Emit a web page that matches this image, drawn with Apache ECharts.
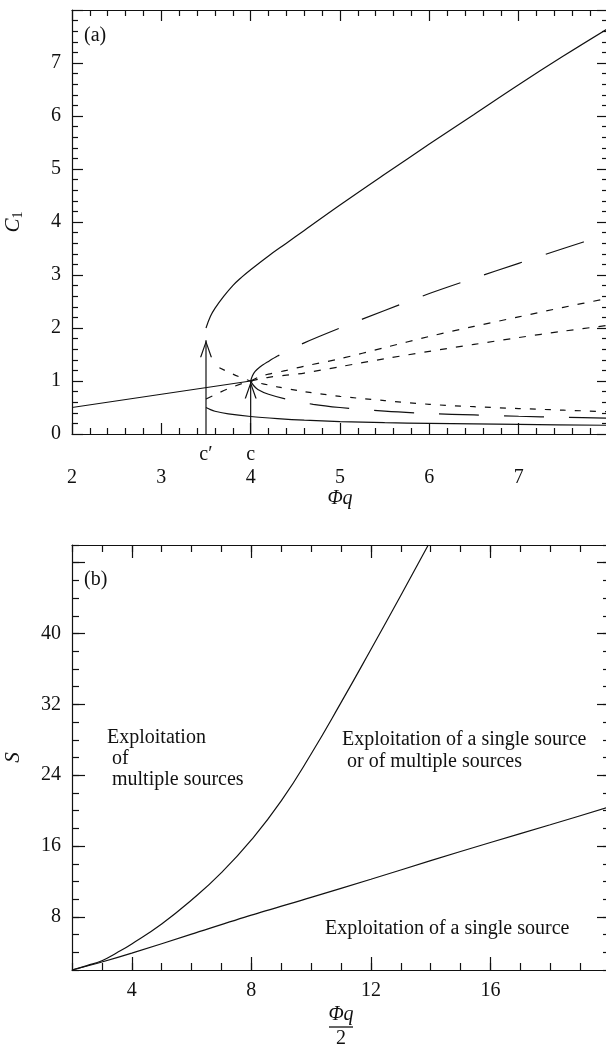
<!DOCTYPE html>
<html>
<head>
<meta charset="utf-8">
<script src="https://cdn.jsdelivr.net/npm/echarts@6/dist/echarts.min.js"></script>
<style>
  html, body { margin: 0; padding: 0; background: #fff; }
  #chart { width: 606px; height: 1047px; }
</style>
</head>
<body>
<div id="chart"></div>
<script>
// ---- panel (a): C1 against Phi q ----
const solidLeft = [[2, 0.5], [3, 0.75], [4, 1.0]]
const solidUpper = [[3.5, 2.0], [3.55, 2.22], [3.6, 2.37], [3.7, 2.6], [3.8, 2.8], [3.9, 2.96], [4.0, 3.1],
  [4.2, 3.36], [4.4, 3.6], [4.6, 3.84], [5, 4.32], [5.5, 4.9], [6, 5.47], [6.5, 6.03], [7, 6.59], [7.5, 7.13], [8, 7.65]]
const solidLower = [[3.5, 0.5], [3.55, 0.46], [3.6, 0.43], [3.75, 0.38], [4, 0.33], [4.3, 0.29], [4.6, 0.26],
  [5, 0.235], [5.5, 0.215], [6, 0.2], [7, 0.18], [8, 0.165]]
const longDashUp = [[4, 1.0], [4.02, 1.1], [4.05, 1.18], [4.1, 1.26], [4.2, 1.37], [4.3, 1.47], [4.4, 1.55],
  [4.6, 1.72], [5, 2.0], [5.5, 2.33], [6, 2.65], [6.5, 2.94], [7, 3.22], [7.5, 3.5], [8, 3.77]]
const longDashLow = [[4, 1.0], [4.03, 0.92], [4.08, 0.84], [4.2, 0.75], [4.42, 0.65], [4.7, 0.56], [5, 0.5],
  [5.5, 0.43], [6, 0.385], [6.5, 0.36], [7, 0.335], [7.5, 0.315], [8, 0.3]]
const dashFromCp = [[3.5, 0.66], [3.6, 0.74], [3.7, 0.82], [3.8, 0.89], [3.9, 0.95], [4, 1.0]]
const dashFalling = [[3.65, 1.25], [3.8, 1.13], [3.9, 1.06], [4, 1.0], [4.3, 0.89], [4.6, 0.8], [5, 0.71],
  [5.5, 0.63], [6, 0.56], [6.5, 0.515], [7, 0.48], [7.5, 0.45], [8, 0.42]]
const dashUpper = [[4, 1.0], [4.1, 1.08], [4.2, 1.13], [4.4, 1.2], [4.6, 1.28], [5, 1.42], [5.5, 1.63],
  [6, 1.84], [6.5, 2.03], [7, 2.21], [7.5, 2.39], [8, 2.56]]
const dashLower = [[4, 1.0], [4.1, 1.04], [4.2, 1.07], [4.4, 1.11], [4.6, 1.15], [5, 1.27], [5.5, 1.42],
  [6, 1.56], [6.5, 1.69], [7, 1.82], [7.5, 1.94], [8, 2.05]]
const arrowX = [3.5, 4]
const arrowTip = [1.77, 0.99]
const arrowNames = ['c\u2032', 'c']

// ---- panel (b): S against Phi q / 2 ----
const bUpperX = [2, 2.5, 3, 3.5, 4, 5, 6, 7, 8, 9, 10, 11, 12, 13, 13.92]
const bUpperY = [2, 2.5, 3.05, 3.95, 4.95, 7.2, 9.9, 13.0, 16.7, 21.1, 26.4, 32.2, 38.2, 44.3, 50]
const bLowerX = [2, 3, 4, 6, 8, 10, 12, 14, 16, 18, 20]
const bLowerY = [2, 2.9, 3.9, 6.05, 8.2, 10.2, 12.25, 14.35, 16.4, 18.4, 20.45]
const bXMajor = [4, 8, 12, 16, 20]
const bXLabels = [4, 8, 12, 16]
const bYMajor = [8, 16, 24, 32, 40, 48]
const bYLabels = [8, 16, 24, 32, 40]

const ink = '#111'
const serif = '"Liberation Serif", "Times New Roman", serif'
const lineW = 1.2

const arrowHead = 'path://M6,0 L12,17 L10.7,17 L6,3.4 L1.3,17 L0,17 Z'

const tick = (len, extra) => Object.assign({
  show: true, inside: true, length: len, lineStyle: { color: ink, width: lineW }
}, extra)

const minor = len => ({ show: true, splitNumber: 5, length: len, lineStyle: { color: ink, width: lineW } })

const label = extra => Object.assign({
  show: true, color: ink, fontFamily: serif, fontSize: 20
}, extra)

const frameAxis = (gridIndex, position, min, max, interval, tickLen, extra) => Object.assign({
  type: 'value', gridIndex, position, min, max, interval,
  axisLine: { show: true, onZero: false, lineStyle: { color: ink, width: lineW } },
  axisTick: tick(tickLen),
  axisLabel: { show: false },
  splitLine: { show: false }
}, extra)

const hideEight = v => (v === 8 ? '' : String(v))

const line = (data, dash, xi, yi, smooth) => ({
  type: 'line', data, xAxisIndex: xi, yAxisIndex: yi,
  showSymbol: false, symbol: 'none', smooth: smooth || 0, silent: true,
  lineStyle: { color: ink, width: lineW, type: dash }
})

const zip = (xs, ys) => xs.map((x, i) => [x, ys[i]])

const arrowSeries = arrowX.map((x, i) => ({
  type: 'line', xAxisIndex: 0, yAxisIndex: 0, clip: false, silent: true,
  symbol: 'none', showSymbol: true,
  lineStyle: { color: ink, width: lineW },
  data: [[x, 0], { value: [x, arrowTip[i]], symbol: arrowHead, symbolSize: [12, 17], symbolOffset: [0, '50%'],
    itemStyle: { color: ink } }]
}))

const chart = echarts.init(document.getElementById('chart'))

chart.setOption({
  animation: false,
  backgroundColor: '#fff',
  grid: [
    { left: 72, top: 10, width: 536, height: 424, outerBoundsMode: 'none' },
    { left: 72, top: 545, width: 538, height: 425, outerBoundsMode: 'none' }
  ],
  xAxis: [
    frameAxis(0, 'bottom', 2, 8, 1, 11, {
      minorTick: minor(6),
      axisLabel: label({ margin: 34, formatter: hideEight }),
      name: '\u03a6q', nameLocation: 'middle', nameGap: 53,
      nameTextStyle: { color: ink, fontFamily: serif, fontSize: 20, fontStyle: 'italic' }
    }),
    frameAxis(0, 'top', 2, 8, 1, 11, { minorTick: minor(6) }),
    {
      type: 'value', gridIndex: 0, position: 'bottom', min: 2, max: 8,
      axisLine: { show: false }, axisTick: { show: false }, splitLine: { show: false },
      axisLabel: label({ customValues: arrowX, margin: 11, formatter: v => arrowNames[arrowX.indexOf(v)] || '' })
    },
    frameAxis(1, 'bottom', 2, 20, 1, 13, {
      axisTick: tick(13, { customValues: bXMajor }),
      axisLabel: label({ margin: 11, customValues: bXLabels }),
      name: '{n|\u03a6q}\n{bar| }\n{d|2}', nameLocation: 'middle', nameGap: 35,
      nameTextStyle: {
        color: ink, fontFamily: serif, fontSize: 20, align: 'center',
        rich: {
          n: { fontFamily: serif, fontSize: 20, fontStyle: 'italic', lineHeight: 20, color: ink },
          bar: { width: 24, height: 1.3, lineHeight: 4, backgroundColor: ink },
          d: { fontFamily: serif, fontSize: 20, lineHeight: 19, color: ink }
        }
      }
    }),
    frameAxis(1, 'bottom', 2, 20, 1, 7, { axisLine: { show: false } }),
    frameAxis(1, 'top', 2, 20, 1, 13, { axisTick: tick(13, { customValues: bXMajor }) }),
    frameAxis(1, 'top', 2, 20, 1, 7, { axisLine: { show: false } })
  ],
  yAxis: [
    frameAxis(0, 'left', 0, 8, 1, 11, {
      minorTick: minor(6),
      axisLabel: label({ margin: 11, formatter: hideEight }),
      name: '{i|C}{s|1}', nameLocation: 'middle', nameGap: 47, nameRotate: 90,
      nameTextStyle: {
        color: ink, fontFamily: serif, fontSize: 20,
        rich: {
          i: { fontFamily: serif, fontSize: 21, fontStyle: 'italic', lineHeight: 24, color: ink },
          s: { fontFamily: serif, fontSize: 14, lineHeight: 14, verticalAlign: 'bottom', color: ink }
        }
      }
    }),
    frameAxis(0, 'right', 0, 8, 1, 11, { minorTick: minor(6) }),
    frameAxis(1, 'left', 2, 50, 2, 13, {
      axisTick: tick(13, { customValues: bYMajor }),
      axisLabel: label({ margin: 11, customValues: bYLabels }),
      name: 'S', nameLocation: 'middle', nameGap: 48, nameRotate: 90,
      nameTextStyle: { color: ink, fontFamily: serif, fontSize: 21, fontStyle: 'italic' }
    }),
    frameAxis(1, 'left', 2, 50, 2, 7, { axisLine: { show: false } }),
    frameAxis(1, 'right', 2, 50, 2, 13, { axisTick: tick(13, { customValues: bYMajor }) }),
    frameAxis(1, 'right', 2, 50, 2, 7, { axisLine: { show: false } })
  ],
  graphic: [
    { type: 'text', left: 84, top: 26, style: { text: '(a)', font: '20px ' + serif, fill: ink } },
    { type: 'text', left: 84, top: 570, style: { text: '(b)', font: '20px ' + serif, fill: ink } },
    { type: 'text', left: 107, top: 727, style: { text: 'Exploitation\n of\n multiple sources', font: '20px ' + serif, lineHeight: 21, fill: ink } },
    { type: 'text', left: 342, top: 729, style: { text: 'Exploitation of a single source\n or of multiple sources', font: '20px ' + serif, lineHeight: 22, fill: ink } },
    { type: 'text', left: 325, top: 919, style: { text: 'Exploitation of a single source', font: '20px ' + serif, fill: ink } }
  ],
  series: [
    line(solidLeft, 'solid', 0, 0),
    line(solidUpper, 'solid', 0, 0, 0.4),
    line(solidLower, 'solid', 0, 0, 0.3),
    line(longDashUp, [40, 25], 0, 0, 0.3),
    line(longDashLow, [40, 25], 0, 0, 0.3),
    line(dashFromCp, [7, 9], 0, 0),
    line(dashFalling, [6, 9], 0, 0, 0.3),
    line(dashUpper, [7, 9], 0, 0, 0.3),
    line(dashLower, [7, 9], 0, 0, 0.3),
    ...arrowSeries,
    line(zip(bUpperX, bUpperY), 'solid', 3, 2, 0.5),
    line(zip(bLowerX, bLowerY), 'solid', 3, 2, 0.3)
  ]
})
</script>
</body>
</html>
